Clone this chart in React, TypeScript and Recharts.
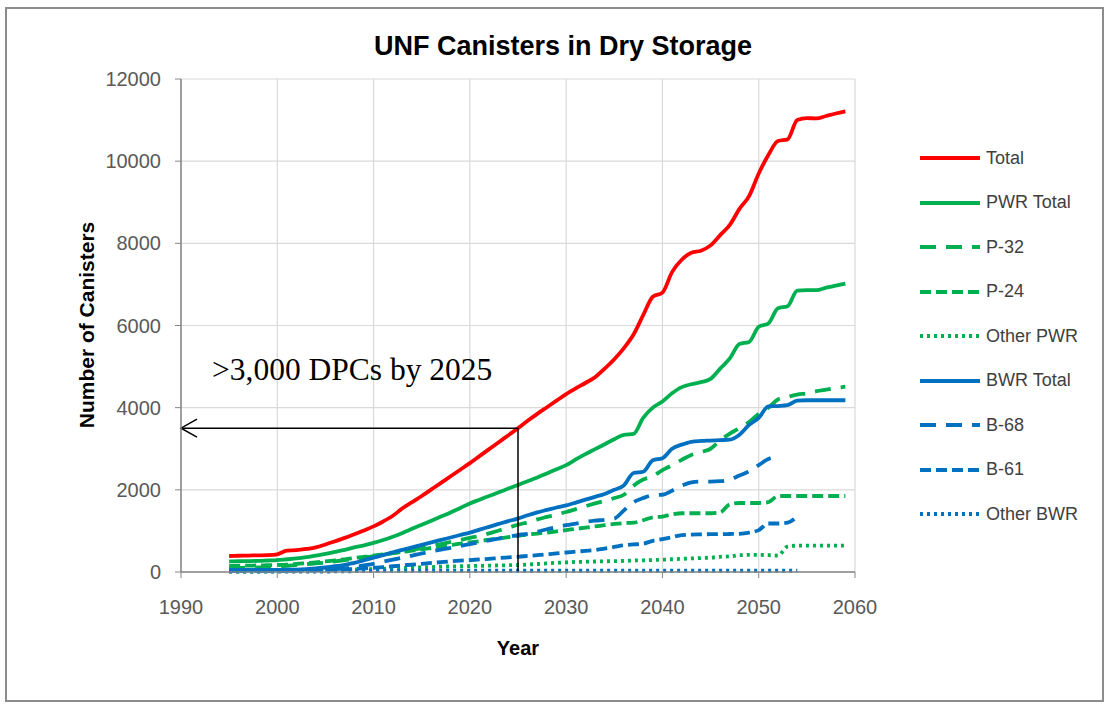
import { LineChart, Line, XAxis, YAxis, CartesianGrid, ReferenceLine } from 'recharts';

const RED = '#FF0000';
const GREEN = '#00B050';
const BLUE = '#0070C0';

const YEARS = [
  1995, 1996, 1997, 1998, 1999, 2000, 2001, 2002, 2003, 2004,
  2005, 2006, 2007, 2008, 2009, 2010, 2011, 2012, 2013, 2014,
  2015, 2016, 2017, 2018, 2019, 2020, 2021, 2022, 2023, 2024,
  2025, 2026, 2027, 2028, 2029, 2030, 2031, 2032, 2033, 2034,
  2035, 2036, 2037, 2038, 2039, 2040, 2041, 2042, 2043, 2044,
  2045, 2046, 2047, 2048, 2049, 2050, 2051, 2052, 2053, 2054,
  2055, 2056, 2057, 2058, 2059,
];

const TOTAL = [
  390, 395, 400, 405, 410, 430, 520, 530, 560, 600,
  670, 750, 830, 920, 1010, 1110, 1230, 1370, 1550, 1700,
  1850, 2010, 2170, 2330, 2490, 2650, 2820, 2990, 3160, 3330,
  3500, 3680, 3850, 4010, 4170, 4330, 4470, 4600, 4740, 4950,
  5180, 5450, 5780, 6250, 6700, 6800, 7300, 7600, 7770, 7820,
  7950, 8200, 8450, 8840, 9150, 9700, 10150, 10490, 10530, 11000,
  11050, 11040, 11100, 11160, 11210,
];

const PWR_TOTAL = [
  260, 262, 265, 270, 280, 290, 310, 330, 360, 400,
  440, 490, 540, 600, 650, 710, 780, 860, 950, 1050,
  1150, 1250, 1350, 1450, 1560, 1670, 1760, 1850, 1940, 2030,
  2120, 2210, 2300, 2400, 2500, 2600, 2740, 2870, 2990, 3110,
  3230, 3340, 3360, 3750, 4000, 4150, 4350, 4500, 4570, 4620,
  4700, 4950, 5200, 5550, 5600, 5970, 6050, 6420, 6470, 6850,
  6860, 6860, 6920, 6970, 7020,
];

const P32 = [
  100, 100, 105, 110, 120, 130, 150, 170, 190, 210,
  230, 260, 290, 320, 350, 380, 420, 460, 500, 540,
  580, 630, 680, 730, 780, 830, 880, 940, 1010, 1080,
  1150, 1210, 1280, 1340, 1400, 1460, 1530, 1600, 1670, 1730,
  1800, 1880, 2100, 2250, 2330, 2480, 2600, 2730, 2850, 2920,
  3000, 3200, 3370, 3500, 3650, 3850, 4000, 4200, 4260, 4320,
  4350, 4400, 4440, 4480, 4510,
];

const P24 = [
  150, 150, 155, 160, 165, 170, 180, 195, 215, 235,
  260, 285, 310, 340, 370, 400, 430, 460, 490, 520,
  550, 585, 620, 650, 690, 720, 750, 785, 815, 850,
  880, 910, 935, 960, 990, 1020, 1050, 1080, 1110, 1140,
  1170, 1190, 1200, 1260, 1330, 1350, 1400, 1430, 1430, 1430,
  1430, 1450, 1650, 1680, 1680, 1680, 1700, 1850, 1850, 1850,
  1850, 1850, 1850, 1850, 1850,
];

const OTHER_PWR = [
  10, 10, 10, 10, 15, 20, 25, 30, 35, 40,
  45, 50, 55, 60, 65, 70, 80, 90, 100, 110,
  115, 120, 130, 135, 140, 145, 150, 155, 160, 165,
  170, 180, 195, 210, 225, 235, 245, 250, 255, 260,
  265, 270, 280, 285, 290, 300, 310, 320, 330, 340,
  350, 370, 380, 410, 415, 415, 410, 400, 620, 640,
  640, 640, 640, 640, 640,
];

const BWR_TOTAL = [
  50, 50, 50, 50, 50, 50, 55, 60, 70, 85,
  110, 140, 175, 220, 285, 350, 410, 480, 540, 600,
  660, 720, 780, 840, 900, 960, 1030, 1100, 1170, 1240,
  1300, 1380, 1450, 1510, 1570, 1620, 1690, 1760, 1830, 1900,
  2000, 2110, 2410, 2440, 2720, 2770, 3000, 3100, 3170, 3190,
  3200, 3210, 3220, 3340, 3580, 3750, 4030, 4040, 4060, 4170,
  4180, 4180, 4180, 4180, 4180,
];

const B68 = [
  20, 20, 20, 20, 20, 20, 25, 30, 35, 45,
  55, 70, 90, 120, 160, 200, 250, 300, 350, 400,
  450, 500, 545, 590, 635, 680, 725, 770, 815, 860,
  900, 930, 980, 1040, 1090, 1140, 1180, 1220, 1250, 1270,
  1300, 1500, 1700, 1800, 1870, 1880, 1980, 2100, 2180, 2200,
  2200, 2210, 2250, 2350, 2450, 2600, 2750, 2800, null, null,
  null, null, null, null, null,
];

const B61 = [
  40, 40, 40, 40, 40, 40, 40, 42, 45, 48,
  50, 55, 65, 75, 90, 100, 120, 140, 160, 180,
  200, 220, 240, 260, 275, 290, 305, 320, 340, 355,
  370, 390, 410, 430, 455, 475, 495, 515, 535, 570,
  610, 650, 670, 690, 760, 800, 850, 900, 910, 915,
  920, 920, 925, 930, 960, 1020, 1180, 1180, 1200, 1350,
  null, null, null, null, null,
];

const OTHER_BWR = [
  10, 10, 10, 10, 10, 10, 10, 10, 10, 10,
  10, 15, 15, 20, 25, 30, 30, 30, 30, 30,
  30, 30, 30, 30, 30, 30, 30, 30, 30, 30,
  30, 30, 30, 30, 30, 30, 30, 30, 30, 30,
  30, 30, 30, 30, 30, 30, 30, 30, 30, 30,
  30, 30, 30, 30, 30, 30, 30, 30, 30, 30,
  null, null, null, null, null,
];

const X_TICKS = [1990, 2000, 2010, 2020, 2030, 2040, 2050, 2060];
const Y_TICKS = [0, 2000, 4000, 6000, 8000, 10000, 12000];

const LONG_DASH = '16 10';
const SHORT_DASH = '11 5';
const DOTS = '3 4';

const SERIES = [
  { key: 'total', name: 'Total', values: TOTAL, color: RED, dash: undefined },
  { key: 'pwr', name: 'PWR Total', values: PWR_TOTAL, color: GREEN, dash: undefined },
  { key: 'p32', name: 'P-32', values: P32, color: GREEN, dash: LONG_DASH },
  { key: 'p24', name: 'P-24', values: P24, color: GREEN, dash: SHORT_DASH },
  { key: 'otherPwr', name: 'Other PWR', values: OTHER_PWR, color: GREEN, dash: DOTS },
  { key: 'bwr', name: 'BWR Total', values: BWR_TOTAL, color: BLUE, dash: undefined },
  { key: 'b68', name: 'B-68', values: B68, color: BLUE, dash: LONG_DASH },
  { key: 'b61', name: 'B-61', values: B61, color: BLUE, dash: SHORT_DASH },
  { key: 'otherBwr', name: 'Other BWR', values: OTHER_BWR, color: BLUE, dash: DOTS },
];

const data = YEARS.map((year, i) => {
  const row: any = { year };
  SERIES.forEach((s) => {
    row[s.key] = s.values[i];
  });
  return row;
});

const AXIS_GRAY = '#868686';
const TICK_STYLE = { fontSize: 20, fill: '#595959', fontFamily: '"Liberation Sans", Arial, sans-serif' };

// left-pointing arrow from the 2025 point back to the y axis
function ArrowLine(props: any) {
  const { x1, y1, x2, y2 } = props;
  const tip = Math.min(x1, x2);
  return (
    <g>
      <line x1={x1} y1={y1} x2={x2} y2={y2} stroke="#000" strokeWidth={1.5} />
      <polyline
        points={`${tip + 16},${y2 - 9} ${tip},${y2} ${tip + 16},${y2 + 9}`}
        fill="none"
        stroke="#000"
        strokeWidth={1.5}
      />
    </g>
  );
}

function LegendBox() {
  return (
    <div style={{ position: 'absolute', left: 918, top: 136 }}>
      {SERIES.map((s) => (
        <div key={s.key} style={{ display: 'flex', alignItems: 'center', height: 44.5 }}>
          <svg width={64} height={10}>
            <line
              x1={2}
              y1={5}
              x2={62}
              y2={5}
              stroke={s.color}
              strokeWidth={3.8}
              strokeDasharray={s.dash}
            />
          </svg>
          <span
            style={{
              fontFamily: '"Liberation Sans", Arial, sans-serif',
              fontSize: 18,
              color: '#404040',
              marginLeft: 4,
            }}
          >
            {s.name}
          </span>
        </div>
      ))}
    </div>
  );
}

export default function App() {
  return (
    <div style={{ position: 'absolute', left: 0, top: 0, width: 1109, height: 706, background: '#fff' }}>
      <div
        style={{
          position: 'absolute',
          left: 5,
          top: 7,
          width: 1099,
          height: 695,
          border: '2px solid #8c8c8c',
          boxSizing: 'border-box',
        }}
      />
      <div
        style={{
          position: 'absolute',
          left: 0,
          width: 1126,
          top: 31,
          textAlign: 'center',
          fontFamily: '"Liberation Sans", Arial, sans-serif',
          fontWeight: 'bold',
          fontSize: 27,
          color: '#000',
        }}
      >
        UNF Canisters in Dry Storage
      </div>

      <LineChart width={1109} height={706} data={data} margin={{ top: 79, right: 254, bottom: 104, left: 121 }}>
        <CartesianGrid stroke="#d9d9d9" strokeWidth={1.2} />
        <XAxis
          dataKey="year"
          type="number"
          domain={[1990, 2060]}
          ticks={X_TICKS}
          interval={0}
          tick={TICK_STYLE}
          tickSize={6}
          tickMargin={22}
          axisLine={{ stroke: AXIS_GRAY, strokeWidth: 1.5 }}
          tickLine={{ stroke: AXIS_GRAY }}
        />
        <YAxis
          type="number"
          domain={[0, 12000]}
          ticks={Y_TICKS}
          interval={0}
          width={60}
          tick={TICK_STYLE}
          tickSize={6}
          tickMargin={14}
          axisLine={{ stroke: AXIS_GRAY, strokeWidth: 1.5 }}
          tickLine={{ stroke: AXIS_GRAY }}
        />
        {SERIES.map((s) => (
          <Line
            key={s.key}
            dataKey={s.key}
            name={s.name}
            type="monotone"
            stroke={s.color}
            strokeWidth={3.8}
            strokeDasharray={s.dash}
            dot={false}
            activeDot={false}
            connectNulls={false}
            isAnimationActive={false}
          />
        ))}
        <ReferenceLine
          segment={[{ x: 2025, y: 3500 }, { x: 1990, y: 3500 }]}
          shape={ArrowLine}
        />
        <ReferenceLine
          segment={[{ x: 2025, y: 3500 }, { x: 2025, y: 0 }]}
          stroke="#000"
          strokeWidth={1.5}
        />
      </LineChart>

      <div
        style={{
          position: 'absolute',
          left: 212,
          top: 354,
          fontFamily: '"Liberation Serif", "Times New Roman", serif',
          fontSize: 31.5,
          lineHeight: 1,
          color: '#000',
          whiteSpace: 'nowrap',
        }}
      >
        &gt;3,000 DPCs by 2025
      </div>

      <div
        style={{
          position: 'absolute',
          left: 87,
          top: 325,
          transform: 'translate(-50%, -50%) rotate(-90deg)',
          fontFamily: '"Liberation Sans", Arial, sans-serif',
          fontWeight: 'bold',
          fontSize: 21,
          whiteSpace: 'nowrap',
          color: '#000',
        }}
      >
        Number of Canisters
      </div>

      <div
        style={{
          position: 'absolute',
          left: 518,
          top: 648,
          transform: 'translate(-50%, -50%)',
          fontFamily: '"Liberation Sans", Arial, sans-serif',
          fontWeight: 'bold',
          fontSize: 20,
          color: '#000',
        }}
      >
        Year
      </div>

      <LegendBox />
    </div>
  );
}
